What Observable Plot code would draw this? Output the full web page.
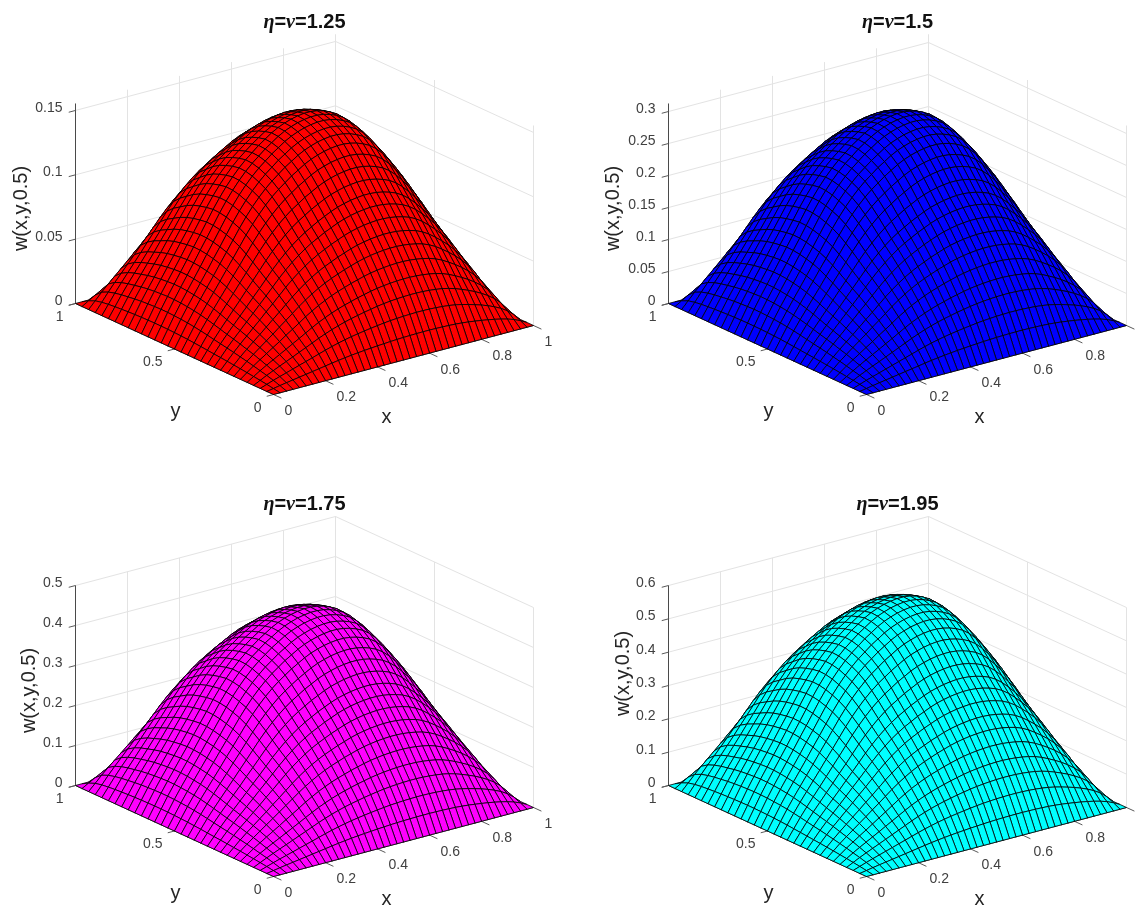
<!DOCTYPE html>
<html><head><meta charset="utf-8">
<script src="https://cdn.jsdelivr.net/npm/d3@7"></script>
<script src="https://cdn.jsdelivr.net/npm/@observablehq/plot@0.6"></script>
<style>
html,body{margin:0;padding:0;background:#fff}
#page{display:grid;grid-template-columns:570px 570px;grid-template-rows:454px 454px;width:1140px;height:908px;overflow:hidden}
#page svg{display:block;filter:blur(0.4px)}
</style></head><body><div id="page"></div>
<script>
// values
const titles = ["1.25", "1.5", "1.75", "1.95"];
const colors = ["#ff0000", "#0000ff", "#ff00ff", "#00ffff"];
const peaks = [0.1415, 0.284, 0.4215, 0.5365];
const zTops = [0.1554, 0.3125, 0.5, 0.6];
const zTicksByPanel = [
  [0, 0.05, 0.1, 0.15],
  [0, 0.05, 0.1, 0.15, 0.2, 0.25, 0.3],
  [0, 0.1, 0.2, 0.3, 0.4, 0.5],
  [0, 0.1, 0.2, 0.3, 0.4, 0.5, 0.6]
];
const xTicks = [0, 0.2, 0.4, 0.6, 0.8, 1];
const yTicks = [0, 0.5, 1];
// normalised sections of the surface along x (41 nodes) and y (31 nodes)
const profX = [0,.066,.132,.193,.251,.309,.367,.427,.485,.545,.605,.66,.71,.755,.795,.83,.86,.89,.915,.94,.96,.975,.987,.995,1,1,.995,.985,.97,.95,.92,.88,.83,.775,.715,.645,.565,.47,.35,.19,0];
const profY = [0,.1,.19,.27,.34,.41,.476,.535,.595,.65,.7,.755,.81,.86,.905,.94,.965,.985,.997,1,.99,.975,.955,.925,.885,.845,.79,.71,.58,.33,0];

// view of the axes box in a panel
const origins = [[273, 394], [296, 394], [273, 422], [296, 422]];
const axisX = [260, -69], axisY = [-198, -91], zLen = 200;
const labelOffsets = [[-55, 5], [-56, 5], [-47, 5], [-46, -12]];
const W = 570, H = 454;

function panel(k) {
  const [ox, oy] = origins[k];
  const zTop = zTops[k], peak = peaks[k], color = colors[k], zTicks = zTicksByPanel[k];
  const P = (x, y, z = 0) => [ox + axisX[0] * x + axisY[0] * y, oy + axisX[1] * x + axisY[1] * y - z / zTop * zLen];
  const seg = (a, b) => ({x1: a[0], y1: a[1], x2: b[0], y2: b[1]});

  // faces, far corner first
  const faces = [];
  for (let i = profX.length - 2; i >= 0; --i) {
    for (let j = profY.length - 2; j >= 0; --j) {
      const id = i * 1000 + j;
      for (const [a, b] of [[i, j], [i + 1, j], [i + 1, j + 1], [i, j + 1], [i, j]]) {
        const [u, v] = P(a / (profX.length - 1), b / (profY.length - 1), peak * profX[a] * profY[b]);
        faces.push({u, v, id});
      }
    }
  }

  const grid = [];
  for (const t of xTicks) {
    grid.push(seg(P(t, 1), P(t, 1, zTop)));
    grid.push(seg(P(t, 0), P(t, 1)));
  }
  for (const t of yTicks) {
    grid.push(seg(P(1, t), P(1, t, zTop)));
    grid.push(seg(P(0, t), P(1, t)));
  }
  for (const z of zTicks) {
    grid.push(seg(P(0, 1, z), P(1, 1, z)));
    grid.push(seg(P(1, 1, z), P(1, 0, z)));
  }
  const axes = [seg(P(0, 1), P(0, 1, zTop)), seg(P(0, 0), P(1, 0)), seg(P(0, 0), P(0, 1))];
  const ticks = [];
  const tx = [axisX[0] * -0.026, axisX[1] * -0.026], ty = [axisY[0] * -0.04, axisY[1] * -0.04];
  for (const z of zTicks) { const a = P(0, 1, z); ticks.push(seg(a, [a[0] + tx[0], a[1] + tx[1]])); }
  for (const t of yTicks) { const a = P(0, t); ticks.push(seg(a, [a[0] + tx[0], a[1] + tx[1]])); }
  for (const t of xTicks) { const a = P(t, 0); ticks.push(seg(a, [a[0] + ty[0], a[1] + ty[1]])); }

  const pt = (p, text) => ({u: p[0], v: p[1], text});
  const tickText = {fontSize: 14, fill: "#404040", lineAnchor: "middle"};
  const zLabels = zTicks.map(z => pt(P(0, 1, z), String(z)));
  const yLabels = yTicks.map(t => pt(P(0, t), String(t)));
  const xLabels = xTicks.map(t => pt(P(t, 0), String(t))).filter(d => d.u + 12 + 8 < W);

  const plot = Plot.plot({
    width: W, height: H, margin: 0,
    x: {domain: [0, W], range: [0, W], axis: null},
    y: {domain: [0, H], range: [0, H], axis: null},
    style: {fontFamily: "'Liberation Sans', Arial, sans-serif", background: "#fff", overflow: "hidden"},
    marks: [
      Plot.link(grid, {x1: "x1", y1: "y1", x2: "x2", y2: "y2", stroke: "#e3e3e3", strokeWidth: 1}),
      Plot.link(axes, {x1: "x1", y1: "y1", x2: "x2", y2: "y2", stroke: "#4a4a4a", strokeWidth: 1}),
      Plot.link(ticks, {x1: "x1", y1: "y1", x2: "x2", y2: "y2", stroke: "#5a5a5a", strokeWidth: 1}),
      Plot.line(faces, {x: "u", y: "v", z: "id", fill: color, stroke: "#000", strokeWidth: 0.8, curve: "linear", strokeLinejoin: "round"}),
      Plot.text(zLabels, {x: "u", y: "v", text: "text", dx: -13, dy: -3, textAnchor: "end", ...tickText}),
      Plot.text(yLabels, {x: "u", y: "v", text: "text", dx: -12, dy: 13, textAnchor: "end", ...tickText}),
      Plot.text(xLabels, {x: "u", y: "v", text: "text", dx: 11, dy: 16, textAnchor: "start", ...tickText}),
      Plot.text([pt(P(0.5, 0), "x")], {x: "u", y: "v", text: "text", dx: -17, dy: 57, fontSize: 20, fill: "#262626", lineAnchor: "middle"}),
      Plot.text([pt(P(0, 0.5), "y")], {x: "u", y: "v", text: "text", dx: 1, dy: 62, fontSize: 20, fill: "#262626", lineAnchor: "middle"}),
      Plot.text([pt(P(0, 1, zTop / 2), "w(x,y,0.5)")], {x: "u", y: "v", text: "text", dx: labelOffsets[k][0], dy: labelOffsets[k][1], rotate: -90, fontSize: 20, fill: "#262626", lineAnchor: "middle"}),
      Plot.text([pt(P(0.5, 0.5, zTop), titles[k])], {x: "u", y: "v", text: "text", dy: -93, fontSize: 20, fontWeight: "bold", fill: "#111", lineAnchor: "middle", className: "ttl"})
    ]
  });
  const greek = "font-family:'Liberation Serif',serif;font-style:italic";
  d3.select(plot).selectAll(".ttl text").html(function () {
    const num = this.textContent;
    return `<tspan style="${greek}">η</tspan>=<tspan style="${greek}">ν</tspan>=${num}`;
  });
  return plot;
}
const page = document.getElementById("page");
titles.forEach((_, k) => page.appendChild(panel(k)));
</script></body></html>
